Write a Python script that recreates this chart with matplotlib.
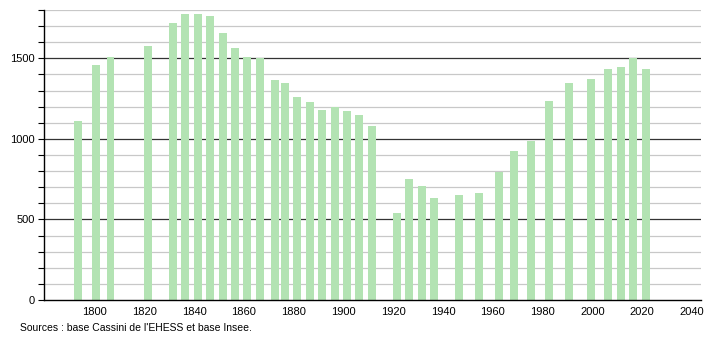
import matplotlib
matplotlib.use("Agg")
import matplotlib.pyplot as plt
import numpy as np

years = [1793, 1800, 1806, 1821, 1831, 1836, 1841, 1846, 1851, 1856, 1861, 1866,
         1872, 1876, 1881, 1886, 1891, 1896, 1901, 1906, 1911, 1921, 1926, 1931,
         1936, 1946, 1954, 1962, 1968, 1975, 1982, 1990, 1999, 2006, 2011, 2016, 2021]
population = [1114, 1460, 1510, 1578, 1717, 1778, 1778, 1761, 1655, 1566, 1510, 1504,
              1363, 1350, 1263, 1230, 1182, 1195, 1176, 1149, 1077, 541, 751, 709,
              635, 649, 666, 796, 927, 989, 1238, 1348, 1369, 1435, 1448, 1504, 1435]
x_ticks = [1800, 1820, 1840, 1860, 1880, 1900, 1920, 1940, 1960, 1980, 2000, 2020, 2040]
y_major = [0, 500, 1000, 1500]
source_text = "Sources : base Cassini de l'EHESS et base Insee."

plt.rcParams['font.family'] = ['Liberation Sans', 'DejaVu Sans']

fig = plt.figure(figsize=(7.1, 3.4), dpi=100)
ax = fig.add_axes([44.3/710, 1 - 300/340, (700.7 - 44.3)/710, 290/340])

ax.set_xlim(1779.8, 2043.5)
ax.set_ylim(0, 1800)

# grid lines
for v in range(100, 1801, 100):
    if v % 500 == 0:
        ax.axhline(v, color='#333333', lw=0.9, zorder=1)
    else:
        ax.axhline(v, color='#c8c8c8', lw=0.9, zorder=1)

ax.bar(np.array(years) + 0.4, population, width=3.2, color='#b3e3b3', zorder=2)

ax.set_xticks(x_ticks)
ax.set_xticklabels([str(t) for t in x_ticks])
ax.set_yticks(y_major)
ax.set_yticklabels([str(t) for t in y_major])
ax.set_yticks(range(0, 1801, 100), minor=True)
ax.tick_params(axis='x', length=0, labelsize=8, pad=5)
ax.tick_params(axis='y', which='major', length=4, labelsize=8, pad=3, width=0.8)
ax.tick_params(axis='y', which='minor', length=4, width=0.8)

for s in ['top', 'right']:
    ax.spines[s].set_visible(False)
ax.spines['left'].set_linewidth(1.0)
ax.spines['bottom'].set_linewidth(1.0)
ax.spines['left'].set_color('black')
ax.spines['bottom'].set_color('black')

fig.text(20/710, 1 - 328/340, source_text, fontsize=7.5, va='center', ha='left')

fig.savefig("out.png", dpi=100)
